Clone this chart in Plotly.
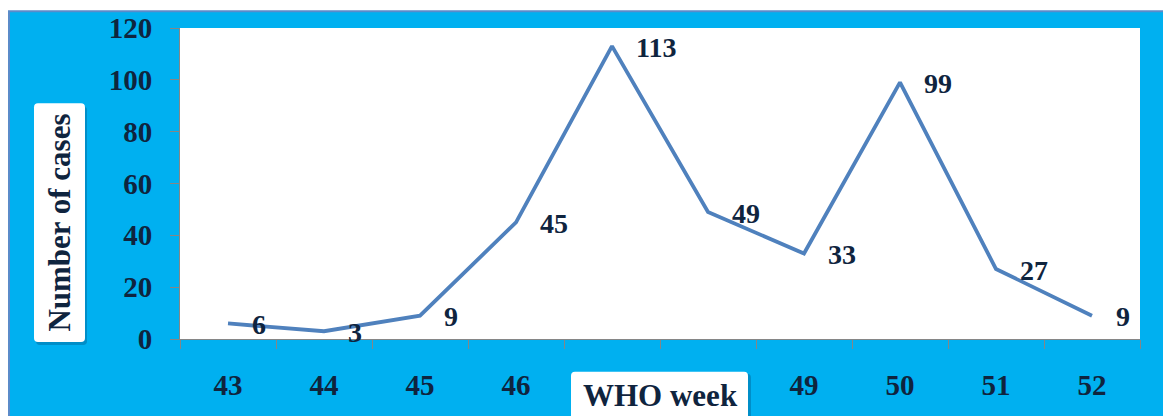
import plotly.graph_objects as go

weeks = ["43", "44", "45", "46", "47", "48", "49", "50", "51", "52"]
cases = [6, 3, 9, 45, 113, 49, 33, 99, 27, 9]
# week labels 47 and 48 are hidden behind the axis-title box in the reference
x_tick_labels = ["43", "44", "45", "46", "", "", "49", "50", "51", "52"]
y_ticks = [0, 20, 40, 60, 80, 100, 120]
x_title = "WHO week"
y_title = "Number of cases"

W, H = 1163, 416
L, R, T, B = 180, 23, 25, 77
PW, PH = W - L - R, H - T - B


def px(x):
    return (x - L) / PW


def py(y):
    return (H - B - y) / PH


def rounded(x0, y0, x1, y1, r=4):
    rx, ry = r / PW, r / PH
    X0, X1 = px(x0), px(x1)
    Y0, Y1 = py(y1), py(y0)  # Y0 bottom, Y1 top (paper)
    return (f"M {X0+rx},{Y0} L {X1-rx},{Y0} Q {X1},{Y0} {X1},{Y0+ry} "
            f"L {X1},{Y1-ry} Q {X1},{Y1} {X1-rx},{Y1} L {X0+rx},{Y1} "
            f"Q {X0},{Y1} {X0},{Y1-ry} L {X0},{Y0+ry} Q {X0},{Y0} {X0+rx},{Y0} Z")


FONT = "Liberation Serif, Times New Roman, serif"
TXT = "#0F243E"
AX = "#868686"

fig = go.Figure()
fig.add_trace(go.Scatter(
    x=weeks, y=cases, mode="lines",
    line=dict(color="#4F81BD", width=3.8),
    hoverinfo="skip", showlegend=False,
))

annotations = []
for i, c in enumerate(cases):
    annotations.append(dict(
        x=i, y=c, xref="x", yref="y", text=f"{c}", showarrow=False,
        xanchor="left", yanchor="middle", xshift=22, yshift=-1,
        font=dict(family=FONT, size=28, color=TXT, weight="bold"),
    ))

# axis titles
annotations.append(dict(
    x=px(59.5), y=py(222), xref="paper", yref="paper", text=y_title,
    textangle=-90, showarrow=False, xanchor="center", yanchor="middle",
    font=dict(family=FONT, size=31, color=TXT, weight="bold"),
))
annotations.append(dict(
    x=px(660), y=py(396), xref="paper", yref="paper", text=x_title,
    showarrow=False, xanchor="center", yanchor="middle",
    font=dict(family=FONT, size=31, color=TXT, weight="bold"),
))

shapes = [
    # cyan background with frame
    dict(type="rect", xref="paper", yref="paper", layer="below",
         x0=px(9), x1=px(1180), y0=py(440), y1=py(8),
         fillcolor="#00B0F0", line=dict(color="#5B8BC9", width=2)),
    # white plot area
    dict(type="rect", xref="paper", yref="paper", layer="below",
         x0=0, x1=1, y0=0, y1=1, fillcolor="white", line=dict(width=0)),
    # shadows
    dict(type="path", xref="paper", yref="paper", layer="above",
         path=rounded(36, 104, 87, 345), fillcolor="rgba(0,40,80,0.25)", line=dict(width=0)),
    dict(type="path", xref="paper", yref="paper", layer="above",
         path=rounded(573, 374, 751, 430), fillcolor="rgba(0,40,80,0.25)", line=dict(width=0)),
    # title boxes
    dict(type="path", xref="paper", yref="paper", layer="above",
         path=rounded(34, 101, 85, 342), fillcolor="white", line=dict(width=0)),
    dict(type="path", xref="paper", yref="paper", layer="above",
         path=rounded(571, 372, 748, 428), fillcolor="white", line=dict(width=0)),
]

fig.update_layout(
    width=W, height=H, autosize=False,
    margin=dict(l=L, r=R, t=T, b=B, pad=0),
    paper_bgcolor="white", plot_bgcolor="white",
    annotations=annotations, shapes=shapes,
    xaxis=dict(
        type="category", tickson="boundaries", ticks="outside", ticklen=9,
        tickmode="array", tickvals=weeks, ticktext=x_tick_labels,
        tickcolor=AX, tickwidth=1, showline=True, linecolor=AX, linewidth=1,
        showgrid=False, zeroline=False, ticklabelstandoff=20,
        tickfont=dict(family=FONT, size=29, color=TXT, weight="bold"),
        range=[-0.5, 9.5],
    ),
    yaxis=dict(
        range=[0, 120], tickvals=y_ticks, ticks="outside", ticklen=9,
        tickcolor=AX, tickwidth=1, showline=True, linecolor=AX, linewidth=1,
        showgrid=False, zeroline=False, ticklabelstandoff=12,
        tickfont=dict(family=FONT, size=29, color=TXT, weight="bold"),
    ),
)

fig.write_html("out.html")
